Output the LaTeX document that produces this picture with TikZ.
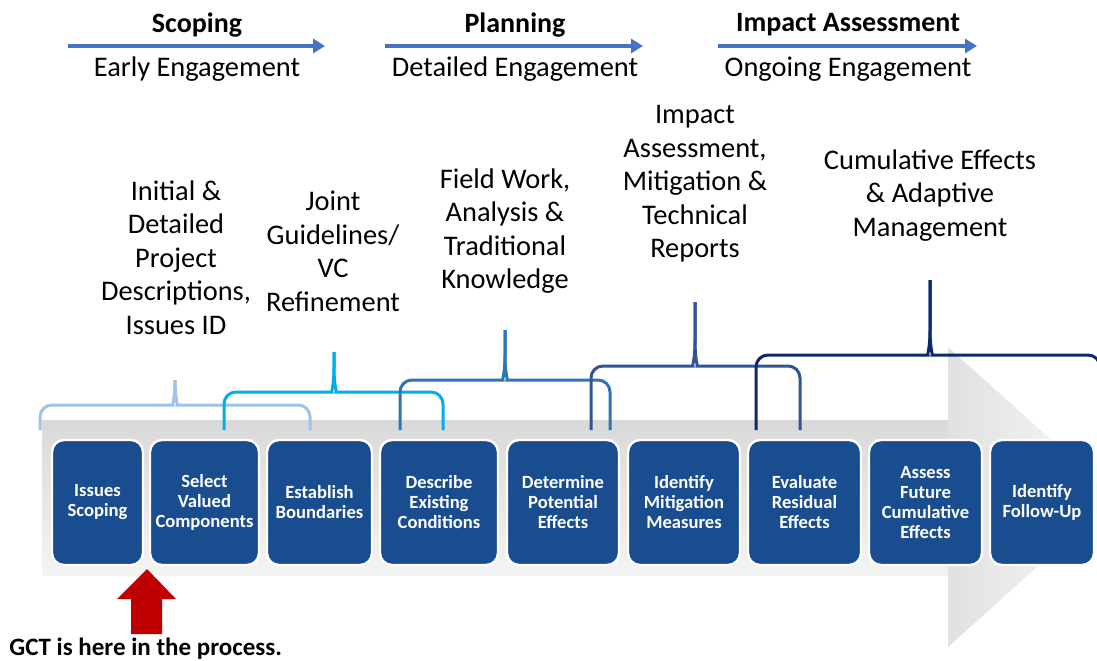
\documentclass[tikz,border=0pt]{standalone}
\usepackage{fontspec}
\setmainfont{Carlito}
\usepackage{xcolor}
\usepackage{tikz}
\usetikzlibrary{arrows.meta}

\definecolor{boxblue}{HTML}{1A4D8F}
\definecolor{flowblue}{HTML}{4472C4}
\definecolor{gctred}{HTML}{C00000}
\definecolor{braceA}{HTML}{9DC3E6}
\definecolor{braceB}{HTML}{00AEEF}
\definecolor{braceC}{HTML}{2E75B6}
\definecolor{braceD}{HTML}{2F5597}
\definecolor{braceE}{HTML}{0B2A6B}

% #1 colour, #2 left leg, #3 right leg, #4 peak, #5 bar, #6 peak top
\newcommand{\bracket}[6]{%
	\draw[brace, #1] (#2,430) [rounded corners=6pt] -- (#2,#5) -- ({#4-14},#5) [sharp corners] .. controls ({#4-3},#5) and (#4,{#5-6}) .. (#4,{#5-25}) -- (#4,#6);
	\draw[brace, #1] (#3,430) [rounded corners=6pt] -- (#3,#5) -- ({#4+14},#5) [sharp corners] .. controls ({#4+3},#5) and (#4,{#5-6}) .. (#4,{#5-25}) -- (#4,#6);
}

\begin{document}
\begin{tikzpicture}[x=0.5pt, y=-0.5pt,
	stepbox/.style={draw=white, line width=1.2pt, fill=boxblue, rounded corners=6pt, text=white, font=\bfseries\fontsize{9.3}{10}\selectfont, align=center, minimum height=62.5pt, inner sep=1pt},
	lbl/.style={align=center, font=\fontsize{14.2}{16.75}\selectfont},
	hdr/.style={font=\bfseries\fontsize{14}{15}\selectfont},
	flow/.style={draw=flowblue, line width=1.6pt, -{Triangle[length=6pt,width=7pt]}},
	brace/.style={line width=1.5pt}]
	\useasboundingbox (0,0) rectangle (1097,660);
	\clip (0,0) rectangle (1097,660);

	% grey process arrow behind the steps
	\shade[top color=gray!30, bottom color=gray!9] (42,420) rectangle (948,575);
	\shade[left color=gray!24, right color=gray!4] (948,347) -- (1115,497) -- (948,647) -- cycle;

	% phases
	\node[hdr] (s1) at (197,25) {Scoping};
	\coordinate (s1a) at (68,46);
	\coordinate (s1b) at (325,46);
	\draw[flow] (s1a) -- (s1b);
	\node[lbl] (e1) at (197,69) {Early Engagement};

	\node[hdr] (s2) at (515,25) {Planning};
	\coordinate (s2a) at (385,46);
	\coordinate (s2b) at (643,46);
	\draw[flow] (s2a) -- (s2b);
	\node[lbl] (e2) at (515,69) {Detailed Engagement};

	\node[hdr] (s3) at (848,25) {Impact Assessment};
	\coordinate (s3a) at (718,46);
	\coordinate (s3b) at (977,46);
	\draw[flow] (s3a) -- (s3b);
	\node[lbl] (e3) at (848,69) {Ongoing Engagement};

	% brackets
	\bracket{braceA}{40}{310}{175}{405}{382}
	\bracket{braceB}{224}{443}{334}{392}{352}
	\bracket{braceC}{400}{610}{505}{380}{330}
	\bracket{braceD}{591}{800}{695}{366}{302}
	\bracket{braceE}{756}{1100}{930}{355}{280}

	\node[lbl] (l1) at (176,257.5) {Initial \&\\Detailed\\Project\\Descriptions,\\Issues ID};
	\node[lbl] (l2) at (333,251.5) {Joint\\Guidelines/\\VC\\Refinement};
	\node[lbl] (l3) at (505,231) {Field Work,\\Analysis \&\\Traditional\\Knowledge};
	\node[lbl] (l4) at (695,184) {Impact\\Assessment,\\Mitigation \&\\Technical\\Reports};
	\node[lbl] (l5) at (930,195.5) {Cumulative Effects\\\& Adaptive\\Management};

	% steps
	\node[stepbox, minimum width=45.5pt] (b1) at (97.5,502.5) {Issues\\Scoping};
	\node[stepbox, minimum width=54.5pt] (b2) at (204.5,502.5) {Select\\Valued\\Components};
	\node[stepbox, minimum width=52.5pt] (b3) at (319.5,502.5) {Establish\\Boundaries};
	\node[stepbox, minimum width=59pt] (b4) at (439,502.5) {Describe\\Existing\\Conditions};
	\node[stepbox, minimum width=56pt] (b5) at (563,502.5) {Determine\\Potential\\Effects};
	\node[stepbox, minimum width=56pt] (b6) at (684,502.5) {Identify\\Mitigation\\Measures};
	\node[stepbox, minimum width=56.5pt] (b7) at (804.5,502.5) {Evaluate\\Residual\\Effects};
	\node[stepbox, minimum width=56.5pt] (b8) at (925.5,502.5) {Assess\\Future\\Cumulative\\Effects};
	\node[stepbox, minimum width=52pt] (b9) at (1042,502.5) {Identify\\Follow-Up};

	% where GCT stands
	\fill[gctred] (131,634) -- (131,599) -- (117,599) -- (147,569) -- (176,599) -- (162,599) -- (162,634) -- cycle;
	\node[font=\bfseries\fontsize{12.5}{13}\selectfont, anchor=west, inner sep=0pt] (gct) at (9,649) {GCT is here in the process.};
\end{tikzpicture}
\end{document}
